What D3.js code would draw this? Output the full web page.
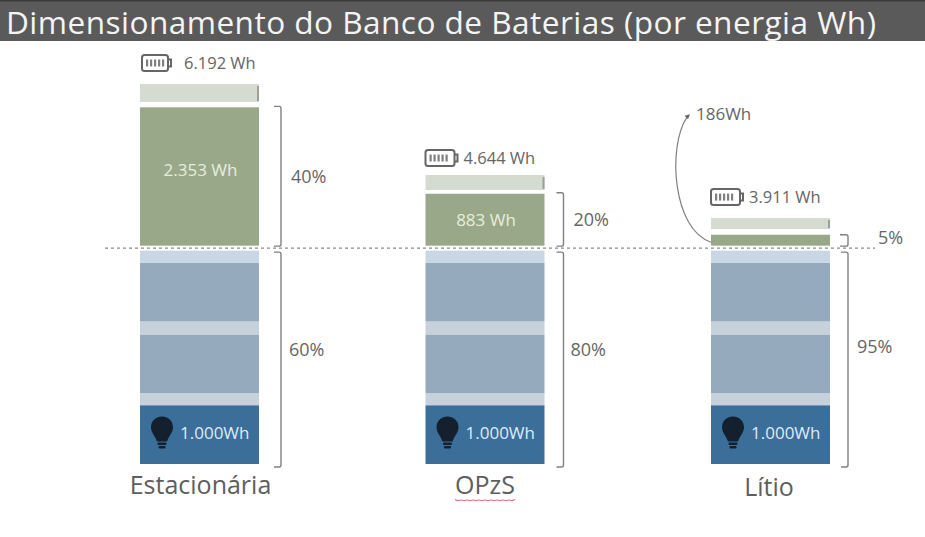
<!DOCTYPE html>
<html>
<head>
<meta charset="utf-8">
<script src="https://cdn.jsdelivr.net/npm/d3@7"></script>
<style>
  html, body { margin: 0; padding: 0; background: #fff; }
  svg { display: block; }
  text { font-family: "Open Sans", "Noto Sans", sans-serif; }
</style>
</head>
<body>
<div id="chart"></div>
<script>
// Battery bank sizing by energy (Wh)
const chartTitle = "Dimensionamento do Banco de Baterias (por energia Wh)";
const categories = ["Estacionária", "OPzS", "Lítio"];
const loadWh = [1000, 1000, 1000];
const totalWh = [6192, 4644, 3911];
const marginWh = [2353, 883, 186];
const reserveWh = [306, 255, 187];
const totalLabels = ["6.192 Wh", "4.644 Wh", "3.911 Wh"];
const marginLabels = ["2.353 Wh", "883 Wh", ""];
const loadLabels = ["1.000Wh", "1.000Wh", "1.000Wh"];
const upperPct = ["40%", "20%", "5%"];
const lowerPct = ["60%", "80%", "95%"];
const calloutLabel = "186Wh";

// Unlabelled spacer bands of the lower stack, bottom to top
const lowerSpacersWh = [204, 221, 204];
const gapAtCutoffWh = 85;

const width = 925, height = 537;
const colors = {
  title: "#5a5a5a", titleText: "#f4f4f4", load: "#3c6e9a", loadText: "#dcebf6",
  bank: "#95aabd", spacer: "#c6d1db", spacerTop: "#c9d7e4", margin: "#9aa88a",
  marginText: "#e6eedb", reserve: "#d6dbd1", reserveEdge: "#9aa096", ink: "#666666",
  soft: "#808080", bulb: "#14202e", squiggle: "#d9727a"
};

const svg = d3.select("#chart").append("svg").attr("width", width).attr("height", height);

// Wh axis: the stacks rest slightly below zero, so each stack top lands on its stated total
const y = d3.scaleLinear().domain([-272, 6192]).range([464, 84]);
const x = d3.scaleBand().domain(categories).range([140, 830]).paddingInner(0.5832);

svg.append("rect").attr("width", width).attr("height", 41).attr("fill", colors.title);
svg.append("rect").attr("width", width).attr("height", 1.5).attr("fill", "#3a3a3a");
svg.append("text").attr("x", 6).attr("y", 34).attr("font-size", 31.6)
  .attr("letter-spacing", 0.45).attr("fill", colors.titleText).text(chartTitle);

const bracket = (px, top, bottom, arm) => {
  const r = 2;
  return `M${px - arm},${top}H${px - r}Q${px},${top} ${px},${top + r}V${bottom - r}Q${px},${bottom} ${px - r},${bottom}H${px - arm}`;
};

const bracketGap = [22, 19, 18];
const upperLabelGap = [32, 29, 48];
const lowerLabelGap = [30, 26, 27];
const lowerBracketDrop = 3;
const marginLabelShift = [-1, 6, 0];
const iconLift = [29, 25, 29];
const categoryShift = [1, 0, -1.5];

categories.forEach((cat, i) => {
  const left = x(cat), bw = x.bandwidth(), right = left + bw, mid = left + bw / 2;
  const g = svg.append("g");

  // Lower stack: load block, then two bank blocks separated by spacer bands
  const blocks = [
    { wh: loadWh[i], fill: colors.load },
    { wh: lowerSpacersWh[0], fill: colors.spacer },
    { wh: loadWh[i], fill: colors.bank },
    { wh: lowerSpacersWh[1], fill: colors.spacer },
    { wh: loadWh[i], fill: colors.bank },
    { wh: lowerSpacersWh[2], fill: colors.spacerTop }
  ];
  let cursor = y.domain()[0];
  blocks.forEach(b => {
    b.from = cursor; cursor += b.wh; b.to = cursor;
  });
  const lowerTop = cursor;
  const marginBase = lowerTop + gapAtCutoffWh;
  const marginTop = marginBase + marginWh[i];

  g.selectAll("rect.block").data(blocks).join("rect").attr("class", "block")
    .attr("x", left).attr("width", bw)
    .attr("y", d => y(d.to)).attr("height", d => y(d.from) - y(d.to))
    .attr("fill", d => d.fill);

  // Usable margin above the cutoff line
  g.append("rect").attr("x", left).attr("width", bw)
    .attr("y", y(marginTop)).attr("height", y(marginBase) - y(marginTop))
    .attr("fill", colors.margin);

  // Reserve cap, its top edge sits on the stack total
  const capTop = y(totalWh[i]), capH = y(totalWh[i] - reserveWh[i]) - capTop;
  g.append("rect").attr("x", left).attr("width", bw).attr("y", capTop).attr("height", capH)
    .attr("fill", colors.reserve);
  g.append("rect").attr("x", right - 2).attr("width", 2).attr("y", capTop + 2).attr("height", capH - 3)
    .attr("fill", colors.reserveEdge);

  // Brackets and percentages
  const bx = right + bracketGap[i];
  const cutoffY = y(lowerTop + gapAtCutoffWh / 2);
  g.append("path").attr("fill", "none").attr("stroke", colors.soft).attr("stroke-width", 1.4)
    .attr("d", bracket(bx, y(marginTop) - (i === 2 ? 0 : 1), y(marginBase) + 0.5, i === 2 ? 8 : 7));
  g.append("path").attr("fill", "none").attr("stroke", colors.soft).attr("stroke-width", 1.4)
    .attr("d", bracket(bx, cutoffY + 4, y.range()[0] + lowerBracketDrop, 7));

  const upperY = (y(marginTop) + y(marginBase)) / 2 + 6;
  g.append("text").attr("x", right + upperLabelGap[i]).attr("y", i === 2 ? 244 : upperY)
    .attr("font-size", 18).attr("fill", colors.ink).text(upperPct[i]);
  g.append("text").attr("x", right + lowerLabelGap[i]).attr("y", i === 2 ? 353 : 356)
    .attr("font-size", 18).attr("fill", colors.ink).text(lowerPct[i]);

  // Margin value inside the green block
  if (marginLabels[i]) {
    g.append("text").attr("x", mid + 1).attr("y", (y(marginTop) + y(marginBase)) / 2 + marginLabelShift[i])
      .attr("text-anchor", "middle").attr("font-size", 17).attr("fill", colors.marginText)
      .text(marginLabels[i]);
  }

  // Load label with a bulb icon
  const loadMidY = (y(blocks[0].from) + y(blocks[0].to)) / 2;
  const bulb = g.append("g").attr("transform", `translate(${left + 22},${loadMidY - 6})`).attr("fill", colors.bulb);
  bulb.append("path").attr("d", "M-11,-1C-11,-8 -6,-12 0,-12C6,-12 11,-8 11,-1C11,4 7,7 5,13H-5C-7,7 -11,4 -11,-1Z");
  bulb.append("rect").attr("x", -4.5).attr("y", 14).attr("width", 9).attr("height", 2.5).attr("rx", 1);
  bulb.append("rect").attr("x", -3.5).attr("y", 17.5).attr("width", 7).attr("height", 2.5).attr("rx", 1);
  g.append("text").attr("x", left + 40).attr("y", loadMidY + 4.5)
    .attr("font-size", 17).attr("fill", colors.loadText).text(loadLabels[i]);

  // Battery icon and stack total
  const iconW = i === 0 ? 30 : 33, iconH = 16;
  const iconX = left + (i === 0 ? 2 : 0), iconY = capTop - iconLift[i];
  const icon = g.append("g").attr("transform", `translate(${iconX},${iconY})`);
  icon.append("rect").attr("width", iconW - 4).attr("height", iconH).attr("rx", 2.5)
    .attr("fill", "#fff").attr("stroke", colors.ink).attr("stroke-width", 2);
  icon.append("path").attr("d", `M${iconW - 4},4.5h3v7h-3`).attr("fill", "none")
    .attr("stroke", colors.ink).attr("stroke-width", 2);
  icon.selectAll("rect.cell").data(d3.range(5)).join("rect").attr("class", "cell")
    .attr("x", d => 4 + d * 4).attr("y", 4.5).attr("width", 2.2).attr("height", 7).attr("fill", colors.soft);
  g.append("text").attr("x", iconX + iconW + (i === 0 ? 12 : 5)).attr("y", iconY + 14)
    .attr("font-size", 16.5).attr("fill", colors.ink).text(totalLabels[i]);

  // Category label
  g.append("text").attr("x", mid + categoryShift[i]).attr("y", i === 2 ? 496 : 494)
    .attr("text-anchor", "middle").attr("font-size", 25).attr("fill", "#5e5e5e").text(cat);

  // Callout for the small lithium margin
  if (i === 2) {
    const tipY = (y(marginTop) + y(marginBase)) / 2 + 2;
    g.append("path").attr("fill", "none").attr("stroke", colors.soft).attr("stroke-width", 1.2)
      .attr("d", `M${left},${tipY}C${left - 38},${tipY - 12} ${left - 44},${tipY - 95} ${left - 24},${tipY - 125}`);
    g.append("path").attr("fill", "#666")
      .attr("d", `M${left - 21},${tipY - 128}l-5.5,1.5l3.5,3.5Z`);
    g.append("text").attr("x", left - 15).attr("y", tipY - 122)
      .attr("font-size", 17).attr("fill", colors.ink).text(calloutLabel);
  }

  if (i === 1) {
    // Spell-check underline under the OPzS label
    const line = d3.line().curve(d3.curveBasis);
    const pts = d3.range(0, 61, 3).map((d, k) => [mid - 30 + d, 500 + (k % 2 ? 1.2 : -0.6)]);
    g.append("path").attr("fill", "none").attr("stroke", colors.squiggle).attr("stroke-width", 1.1).attr("d", line(pts));
  }
});

// Dashed cutoff line across every stack
const lowerSum = d3.sum(lowerSpacersWh) + d3.sum(loadWh);
svg.append("line").attr("x1", 105).attr("x2", 875)
  .attr("y1", y(y.domain()[0] + lowerSum + gapAtCutoffWh / 2))
  .attr("y2", y(y.domain()[0] + lowerSum + gapAtCutoffWh / 2))
  .attr("stroke", "#8a8a8a").attr("stroke-width", 1.4).attr("stroke-dasharray", "3,3");
</script>
</body>
</html>
